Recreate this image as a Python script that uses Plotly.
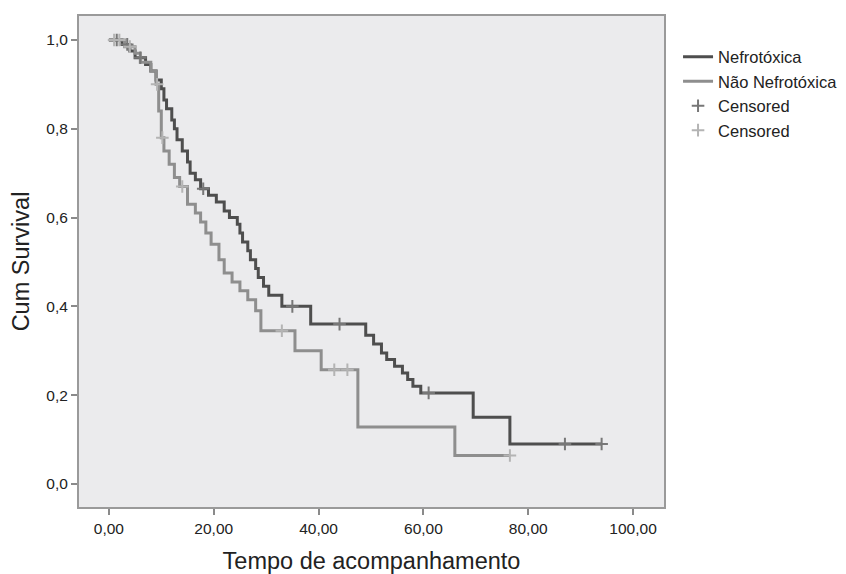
import numpy as np
import plotly.graph_objects as go

# --- data ---
nefro_time = [0, 2.5, 4, 5, 7, 8, 9, 10, 10.5, 11, 12, 12.5, 13, 14, 15, 15.5, 16.5, 17.5, 19,
              20.5, 22, 23, 24.5, 25, 25.5, 26.5, 27, 28, 28.5, 29.5, 30.5, 33, 38.5,
              49, 50.5, 52, 53, 54.5, 56, 57, 58, 59.5, 69.5, 76.5, 94]
nefro_surv = [1.0, 0.99, 0.975, 0.96, 0.945, 0.93, 0.91, 0.89, 0.865, 0.845, 0.82, 0.80, 0.775,
              0.75, 0.725, 0.70, 0.685, 0.665, 0.65, 0.635, 0.615, 0.60, 0.585, 0.565, 0.545,
              0.525, 0.505, 0.485, 0.465, 0.445, 0.425, 0.40, 0.36,
              0.335, 0.315, 0.295, 0.28, 0.265, 0.25, 0.235, 0.22, 0.205, 0.15, 0.09, 0.09]

nao_time = [0, 3, 5, 6, 8, 9, 9.5, 10, 10.5, 11.5, 12.5, 13.5, 15, 16.5, 17.5, 18.5, 19.5,
            21, 22, 23.5, 25, 26.5, 28, 29, 35.5, 40.5, 47.5, 66, 76.5]
nao_surv = [1.0, 0.985, 0.97, 0.95, 0.93, 0.90, 0.84, 0.78, 0.75, 0.72, 0.69, 0.67, 0.63,
            0.61, 0.59, 0.565, 0.54, 0.505, 0.475, 0.455, 0.435, 0.415, 0.39, 0.345, 0.30,
            0.257, 0.128, 0.064, 0.064]

nefro_censor_time = [1.5, 3.5, 6, 18, 35, 44, 61, 87, 94]
nao_censor_time = [1, 2, 4, 9.2, 10.2, 14, 33, 43, 45.5, 76.5]

y_ticks = [0.0, 0.2, 0.4, 0.6, 0.8, 1.0]
y_ticktext = ["0,0", "0,2", "0,4", "0,6", "0,8", "1,0"]
x_ticks = [0, 20, 40, 60, 80, 100]
x_ticktext = ["0,00", "20,00", "40,00", "60,00", "80,00", "100,00"]

DARK = "#4e4e4e"
LIGHT = "#8e8e8e"


def surv_at(times, survs, t):
    idx = np.searchsorted(np.array(times), t, side="right") - 1
    return [survs[i] for i in idx]


fig = go.Figure()
fig.add_trace(go.Scatter(x=nefro_time, y=nefro_surv, mode="lines", line_shape="hv",
                         line=dict(color=DARK, width=3), name="Nefrotóxica"))
fig.add_trace(go.Scatter(x=nao_time, y=nao_surv, mode="lines", line_shape="hv",
                         line=dict(color=LIGHT, width=3), name="Não Nefrotóxica"))
fig.add_trace(go.Scatter(x=nefro_censor_time,
                         y=surv_at(nefro_time, nefro_surv, nefro_censor_time),
                         mode="markers", name="Censored",
                         marker=dict(symbol="cross-thin", size=9,
                                     line=dict(color="#777777", width=2))))
fig.add_trace(go.Scatter(x=nao_censor_time,
                         y=surv_at(nao_time, nao_surv, nao_censor_time),
                         mode="markers", name="Censored",
                         marker=dict(symbol="cross-thin", size=9,
                                     line=dict(color="#b4b4b4", width=2))))

# the page body has an 8px margin, so the figure is 8px smaller than the window
fig.update_layout(
    width=838, height=566,
    margin=dict(l=71, r=182, t=8, b=67, autoexpand=False),
    paper_bgcolor="white", plot_bgcolor="#ebebed",
    font=dict(family="Liberation Sans, Arial, sans-serif", color="#222222", size=15.5),
    showlegend=True,
    legend=dict(x=1.024, y=0.952, xanchor="left", yanchor="top",
                bgcolor="rgba(0,0,0,0)", font=dict(size=16.5), tracegroupgap=0,
                itemwidth=30),
)
fig.update_xaxes(range=[-5.7, 105.9], tickvals=x_ticks, ticktext=x_ticktext,
                 showgrid=False, zeroline=False, ticks="outside", ticklen=6, tickwidth=2,
                 tickcolor="#8a8a8a", showline=True, linecolor="#9a9a9a", linewidth=2,
                 mirror=True, tickfont=dict(size=15.5), automargin=False,
                 title=dict(text="Tempo de acompanhamento", font=dict(size=23.5), standoff=19))
fig.update_yaxes(range=[-0.052, 1.054], tickvals=y_ticks, ticktext=y_ticktext,
                 showgrid=False, zeroline=False, ticks="outside", ticklen=6, tickwidth=2,
                 tickcolor="#8a8a8a", showline=True, linecolor="#9a9a9a", linewidth=2,
                 mirror=True, tickfont=dict(size=15.5), automargin=False,
                 title=dict(text="Cum Survival", font=dict(size=23.5), standoff=12))

fig.write_html("out.html")
